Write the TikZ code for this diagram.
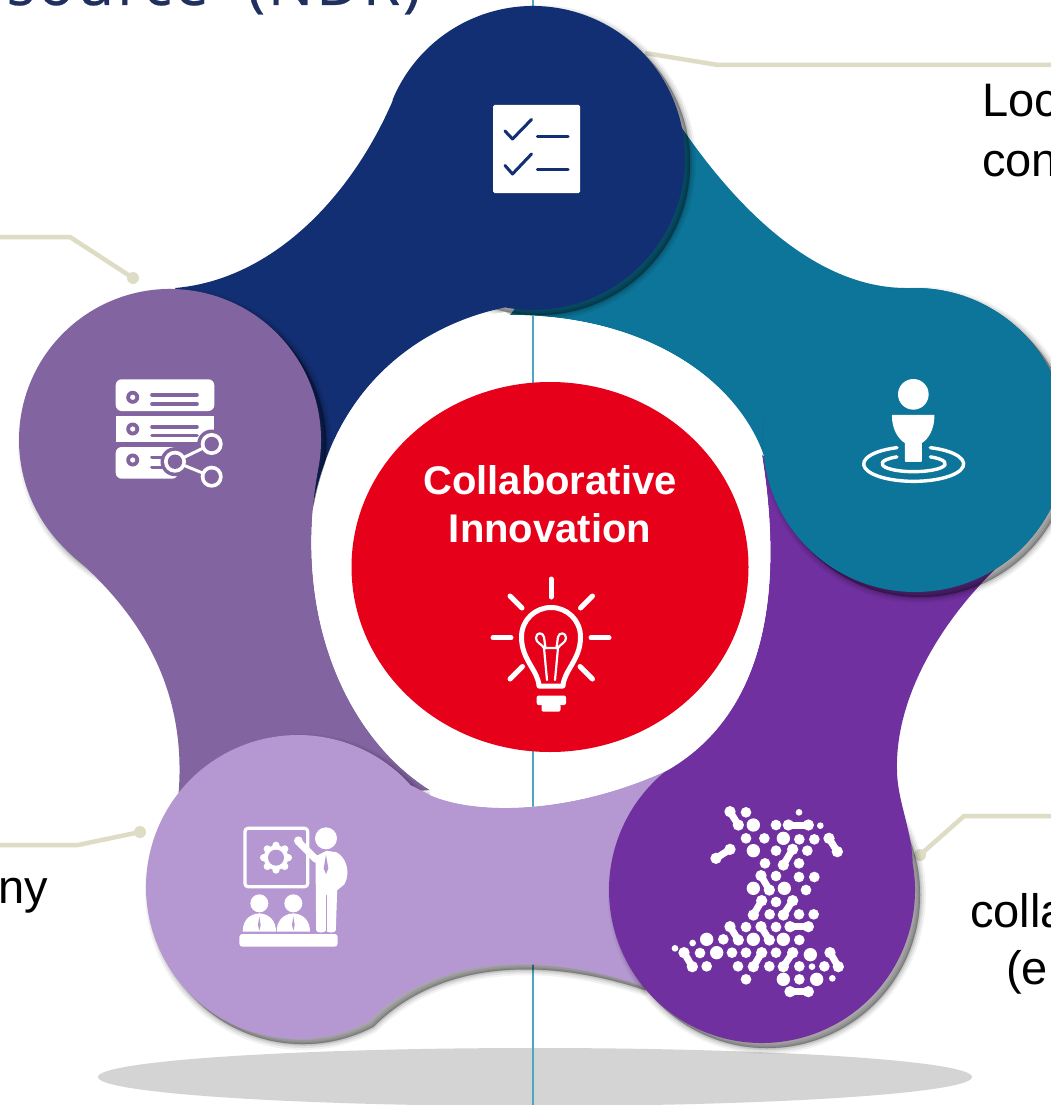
\documentclass[tikz,border=0pt]{standalone}
\usepackage{fontspec}
\usetikzlibrary{shapes.geometric}
\setmainfont{Liberation Sans}
\newfontfamily\titlefont[LetterSpace=5,FakeBold=0.4]{Open Sans}
\definecolor{navyc}{HTML}{132F73}
\definecolor{tealc}{HTML}{0C7599}
\definecolor{grayp}{HTML}{8265A0}
\definecolor{lightp}{HTML}{B597D2}
\definecolor{darkp}{HTML}{7030A0}
\definecolor{redc}{HTML}{E60019}
\definecolor{beige}{HTML}{DFDCC6}
\definecolor{floorc}{HTML}{D4D4D4}
\definecolor{axisc}{HTML}{4DA6C4}
\definecolor{titlec}{HTML}{1F2F5F}
\tikzset{
  leader/.style={draw=beige,line width=4.5pt,line join=round},
  leaderdot/.style={circle,fill=beige,inner sep=0pt,minimum size=12pt},
  bodytext/.style={anchor=base west,inner sep=0pt,font=\fontsize{47}{47}\selectfont,text=black},
  centertext/.style={anchor=base,inner sep=0pt,font=\fontsize{40}{40}\selectfont\bfseries,text=white},
  iconline/.style={draw=white,line cap=round,line join=round},
}
\newcommand\softshadow[1]{%
  \begin{scope}[shift={(5,5)}]
    \path[draw=black,fill=black,opacity=.05,line width=12pt,line join=round] #1;
    \path[draw=black,fill=black,opacity=.07,line width=8pt,line join=round] #1;
    \path[draw=black,fill=black,opacity=.10,line width=4pt,line join=round] #1;
    \path[draw=black,fill=black,opacity=.14,line width=1pt,line join=round] #1;
  \end{scope}}
\def\navypath{([shift={(533,158)}]202.4:152pt) arc[start angle=202.4,end angle=460.6,radius=152pt]
  .. controls (420,325) and (335,385) .. (312,510) -- (250,400) -- (175,288)
  .. controls (270,280) and (350,200) .. (393,100) -- cycle}
\def\tealpath{([shift={(915,440)}]266:152pt) arc[start angle=266,end angle=534.4,radius=152pt]
  .. controls (735,375) and (640,315) .. (510,315) -- (600,200) -- (670,110)
  .. controls (715,180) and (800,287) .. (905,288) -- cycle}
\def\darkpath{([shift={(762,890)}]-10:153pt) arc[start angle=-10,end angle=232,radius=153pt]
  .. controls (745,725) and (790,630) .. (762,455) -- (850,520) -- (1005,560)
  .. controls (950,610) and (895,690) .. (897,770)
  .. controls (897,800) and (912,830) .. (912.7,863) -- cycle}
\def\lightpath{([shift={(298,887)}]62.6:152pt) arc[start angle=62.6,end angle=318,radius=152pt]
  -- (430,795) .. controls (475,815) and (570,815) .. (668,770) -- (700,880) -- (640,985)
  .. controls (550,955) and (440,950) .. (368,1022) -- cycle}
\def\graypath{([shift={(170,440)}]10:151pt) arc[start angle=370,end angle=130.8,radius=151pt]
  .. controls (130,605) and (190,680) .. (178,800) -- (300,800) -- (430,790)
  .. controls (350,740) and (290,620) .. (318.7,466) -- cycle}
\def\ringpath{(762,455) .. controls (735,375) and (640,315) .. (510,315) -- (505,312)
  .. controls (420,325) and (335,385) .. (312.7,511.1)
  .. controls (302.2,643.3) and (358,745) .. (430,790) -- (430,795)
  .. controls (475,815) and (570,815) .. (668,770)
  .. controls (745,725) and (790,630) .. (762,455) -- cycle}
\def\tealcircle{(915,440) circle[radius=152pt]}
\begin{document}
\begin{tikzpicture}[x=1pt,y=1pt,yscale=-1]
\useasboundingbox (0,0) rectangle (1051,1105);
\clip (0,0) rectangle (1051,1105);
\fill[white] (0,0) rectangle (1051,1105);
% floor and axis
\node[ellipse,fill=floorc,minimum width=874pt,minimum height=58pt,inner sep=0pt] (floor) at (535,1077) {};
\coordinate (axistop) at (533,0);
\coordinate (axisbottom) at (533,1105);
\draw[axisc,line width=1.2pt] (axistop) -- (axisbottom);
% title and body text
\node[anchor=base east,inner sep=0pt,text=titlec,font=\fontsize{60}{60}\selectfont\titlefont] (title) at (421,5) {source\hspace{20pt} (NDR)};
\node[bodytext] (t1) at (982,117) {Loc};
\node[bodytext] (t2) at (982,176) {con};
\node[bodytext] (t3) at (-2,903) {ny};
\node[bodytext] (t4) at (970,927) {colla};
\node[bodytext] (t5) at (1006,984) {(e};
% leaders
\coordinate (l1a) at (645,53); \coordinate (l1b) at (718,65); \coordinate (l1c) at (1051,65);
\draw[leader] (l1a) -- (l1b) -- (l1c);
\node[leaderdot] (d2) at (133,278) {};
\coordinate (l2b) at (70,237); \coordinate (l2c) at (0,237);
\draw[leader] (d2.center) -- (l2b) -- (l2c);
\node[leaderdot] (d3) at (140,832) {};
\coordinate (l3b) at (78,845); \coordinate (l3c) at (0,845);
\draw[leader] (d3.center) -- (l3b) -- (l3c);
\node[leaderdot] (d4) at (920,855) {};
\coordinate (l4b) at (964,816); \coordinate (l4c) at (1051,816);
\draw[leader] (d4.center) -- (l4b) -- (l4c);
% petals
\fill[tealc] \tealpath;
\softshadow{(533,158) circle[radius=152pt]}
\fill[navyc] \navypath;
\softshadow{(170,440) circle[radius=151pt]}
\fill[grayp] \graypath;
\softshadow{\lightpath}
\fill[lightp] \lightpath;
\softshadow{(762,890) circle[radius=153pt]}
\fill[darkp] \darkpath;
% white ring between the petals
\fill[white] \ringpath;
\begin{scope}
  \clip \ringpath;
  \draw[axisc,line width=1.2pt] (axistop) -- (axisbottom);
\end{scope}
\softshadow{\tealcircle}
\fill[tealc] \tealcircle;
% centre
\node[ellipse,fill=redc,minimum width=397pt,minimum height=370pt,inner sep=0pt] (core) at (550,567) {};
\node[centertext] (c1) at (550,494) {Collaborative};
\node[centertext] (c2) at (550,542) {Innovation};
% bulb
\begin{scope}[line width=5pt]
  \draw[iconline] (551,579) -- (551,597);
  \draw[iconline] (510,596) -- (522,608);
  \draw[iconline] (592.5,596) -- (580.5,608);
  \draw[iconline] (493,637.7) -- (511,637.7);
  \draw[iconline] (591,637.7) -- (609,637.7);
  \draw[iconline] (522.5,666.5) -- (510,679);
  \draw[iconline] (580,666.5) -- (592.5,679);
  \draw[iconline] (539,686) .. controls (538,670) and (521.5,660) .. (521.5,637)
     .. controls (521.5,620) and (535,607.5) .. (551,607.5)
     .. controls (567,607.5) and (580.5,620) .. (580.5,637)
     .. controls (580.5,660) and (564,670) .. (563,686) -- cycle;
  \fill[white,rounded corners=2pt] (536.7,695.5) rectangle (566,705);
  \fill[white,rounded corners=2pt] (541.5,704) rectangle (560.5,711.7);
  \draw[iconline,line width=2.2pt] (547,680) -- (544,648)
     .. controls (542,644) and (536,643) .. (536,638) .. controls (536,632) and (543,632) .. (544,637) -- (545.5,648) -- (556.5,648) -- (558,637)
     .. controls (559,632) and (566,632) .. (566,638) .. controls (566,643) and (560,644) .. (558,648) -- (555,680);
\end{scope}
% checklist icon
\node[fill=white,rounded corners=1.5pt,minimum width=87pt,minimum height=88pt,inner sep=0pt] (check) at (536.5,149) {};
\begin{scope}
  \draw[navyc,line width=3pt,line cap=round,line join=round] (505,131) -- (512.5,139) -- (531.5,119.5);
  \draw[navyc,line width=3.4pt,line cap=round] (537.5,136.3) -- (568,136.3);
  \draw[navyc,line width=3pt,line cap=round,line join=round] (505,165.5) -- (512.5,174) -- (531.5,154);
  \draw[navyc,line width=3.4pt,line cap=round] (537.5,169.7) -- (568,169.7);
\end{scope}
% server icon
\begin{scope}
  \fill[white,rounded corners=6pt] (115.7,411) -- (115.7,379.3) -- (214.3,379.3) -- (214.3,411) -- cycle;
  \fill[white] (115.7,415.7) rectangle (214.3,442.3);
  \fill[white,rounded corners=6pt] (115.7,447) -- (115.7,478.7) -- (178,478.7) -- (178,447) -- cycle;
  \foreach \yy in {397.3,429,460}{
    \fill[grayp] (132.7,\yy) circle[radius=6.5pt];
    \fill[white] (132.7,\yy) circle[radius=2.6pt];}
  \foreach \yy in {395,404,426.7,435.5}
    \draw[grayp,line width=3.6pt,line cap=round] (152,\yy) -- (197,\yy);
  \foreach \yy in {457.3,467.3}
    \draw[grayp,line width=3.6pt,line cap=round] (152,\yy) -- (170,\yy);
  \foreach \xx/\yy in {175/461.7,211.7/444,211.7/476.7}
    \fill[grayp] (\xx,\yy) circle[radius=14.5pt];
  \draw[white,line width=3pt] (175,461.7) -- (211.7,444) (175,461.7) -- (211.7,476.7);
  \foreach \xx/\yy in {175/461.7,211.7/444,211.7/476.7}{
    \fill[white] (\xx,\yy) circle[radius=11pt];
    \fill[grayp] (\xx,\yy) circle[radius=7.2pt];}
\end{scope}
% location icon
\begin{scope}[shift={(840,360)},scale=1/3]
  \fill[white] (220,103) circle[radius=46pt];
  \path[fill=white,draw=white,line width=1.5pt,line join=round] (158,167) -- (281,167) .. controls (281,205) and (265,235) .. (243,248) -- (243,303) -- (197,303) -- (197,248) .. controls (175,235) and (158,205) .. (158,167) -- cycle;
  \draw[iconline,line width=3.4pt] ([shift={(221,312)}]-70.5:150pt and 52pt) arc[start angle=-70.5,end angle=250.5,x radius=150pt,y radius=52pt];
  \draw[iconline,line width=3.4pt] ([shift={(221,311)}]-58:95pt and 24pt) arc[start angle=-58,end angle=238,x radius=95pt,y radius=24pt];
\end{scope}
% presenter icon
\begin{scope}[shift={(220,810)},scale=1/3]
  \draw[white,line width=3.2pt,rounded corners=3pt] (75,55) rectangle (263,230);
  \fill[white] (168,143) circle[radius=37pt];
  \foreach \a in {0,45,...,315}
    \fill[white] ([shift={(168,143)}]\a:37pt) circle[radius=11pt];
  \fill[lightp] (168,143) circle[radius=24pt];
  \fill[white] (318,85) circle[radius=33pt];
  \fill[white] (235,92) circle[radius=13pt];
  \draw[white,line width=7pt,line cap=round] (235,95) -- (288,148);
  \path[fill=white,draw=white,line width=1pt,line join=round] (288,140) -- (320,124) -- (348,128) .. controls (375,140) and (392,185) .. (372,222) -- (350,240) -- (346,360) .. controls (346,368) and (322,368) .. (318,360) .. controls (314,368) and (290,368) .. (290,360) -- cycle;
  \fill[lightp] (318,135) -- (325,175) -- (318,192) -- (311,175) -- cycle;
  \draw[lightp,line width=1pt] (318,255) -- (318,362);
  \foreach \dx in {0,102}{
    \begin{scope}[shift={(\dx,0)}]
      \fill[white] (118,280) circle[radius=27pt];
      \fill[white] (68,365) .. controls (68,335) and (85,312) .. (118,310) .. controls (151,312) and (168,335) .. (168,365) -- cycle;
      \fill[lightp] (118,320) -- (122,345) -- (118,362) -- (114,345) -- cycle;
    \end{scope}}
  \fill[white,rounded corners=3pt] (58,372) rectangle (353,410);
\end{scope}
% map icon
\begin{scope}[shift={(640,780)},scale=1/3]
  \foreach \xx/\yy/\rr in {318/97/16,477/97/10,340/135/20,408/135/16,541/137/10,318/175/16,373/175/16,430/175/20,478/178/16,523/178/16,340/212/20,408/212/16,502/212/16,375/250/16,477/250/16,408/288/16,477/291/16,523/291/16,340/325/20,433/325/20,498/330/16,408/366/16,389/403/16,477/403/16,521/403/16,318/441/16,408/441/16,250/478/16,200/478/20,158/489/10,340/478/20,430/478/20,478/480/16,105/505/10,180/519/16,230/518/20,276/518/16,318/518/16,408/518/16,511/524/20,200/559/16,294/559/16,388/559/16,478/559/16,516/560/10,553/559/16,318/598/16,430/598/20,478/598/16,530/598/20,577/595/10}
    \fill[white] (\xx,\yy) circle[radius=\rr pt];
  \foreach \xa/\ya/\xb/\yb in {270/95/295/135,445/135/505/135,567/175/592/215,228/235/270/208,430/255/458/208,363/287/388/330,340/405/365/362,430/405/458/362,270/440/295/480,363/440/388/480,450/440/505/440,132/518/157/560,340/560/365/518,430/560/458/518,570/518/595/560,450/635/505/635}{
    \draw[white,line width=7pt] (\xa,\ya) -- (\xb,\yb);
    \fill[white] (\xa,\ya) circle[radius=17pt];
    \fill[white] (\xb,\yb) circle[radius=17pt];}
\end{scope}
\end{tikzpicture}
\end{document}
